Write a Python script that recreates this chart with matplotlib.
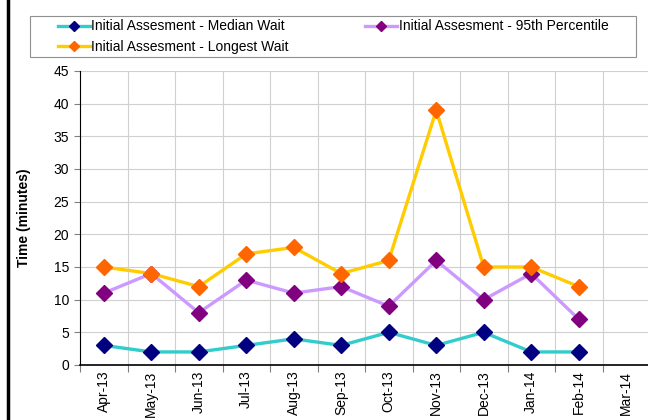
import matplotlib
matplotlib.use('Agg')
import matplotlib.pyplot as plt
from matplotlib.lines import Line2D
from matplotlib.patches import Rectangle
import numpy as np

plt.rcParams['font.family'] = ['Liberation Sans', 'DejaVu Sans']

months = ['Apr-13', 'May-13', 'Jun-13', 'Jul-13', 'Aug-13', 'Sep-13',
          'Oct-13', 'Nov-13', 'Dec-13', 'Jan-14', 'Feb-14', 'Mar-14']
median_wait = [3, 2, 2, 3, 4, 3, 5, 3, 5, 2, 2]
pct95_wait = [11, 14, 8, 13, 11, 12, 9, 16, 10, 14, 7]
longest_wait = [15, 14, 12, 17, 18, 14, 16, 39, 15, 15, 12]

W, H = 648, 420
fig = plt.figure(figsize=(W / 100, H / 100), dpi=100)
ax = fig.add_axes([80 / W, 55 / H, 570 / W, 294 / H])

x = np.arange(len(median_wait))
l1 = ax.plot(x, median_wait, color='#33CCCC', lw=2.4, marker='D', ms=8.5,
             mfc='#000080', mec='#000080', label='Initial Assesment - Median Wait', zorder=3)
l2 = ax.plot(x, pct95_wait, color='#CC99FF', lw=2.4, marker='D', ms=8.5,
             mfc='#800080', mec='#800080', label='Initial Assesment - 95th Percentile', zorder=3)
l3 = ax.plot(x, longest_wait, color='#FFCC00', lw=2.4, marker='D', ms=8.5,
             mfc='#FF6600', mec='#FF6600', label='Initial Assesment - Longest Wait', zorder=3)

ax.set_xlim(-0.5, len(months) - 0.5)
ax.set_ylim(0, 45)
ax.set_yticks(np.arange(0, 46, 5))
ax.tick_params(axis='y', labelsize=10, length=4, direction='out', color='#808080', pad=4)

# boundaries as major ticks (grid), centres as minor ticks (labels)
ax.set_xticks(np.arange(-0.5, len(months), 1))
ax.set_xticklabels([])
ax.set_xticks(np.arange(len(months)), minor=True)
ax.set_xticklabels(months, minor=True, rotation=90, fontsize=10)
ax.tick_params(axis='x', which='major', length=5, color='#808080')
ax.tick_params(axis='x', which='minor', length=0, pad=4)

ax.grid(True, which='major', color='#D0D0D0', lw=0.8)
ax.set_axisbelow(True)
for s in ['top', 'right']:
    ax.spines[s].set_visible(False)
ax.spines['left'].set_color('black')
ax.spines['bottom'].set_color('black')
ax.spines['bottom'].set_linewidth(1.2)

ax.set_ylabel('Time (minutes)', fontsize=10, fontweight='bold', labelpad=16)

# legend frame drawn separately so it spans the full width
fig.add_artist(Rectangle((30 / W, 1 - 57 / H), 606 / W, 41 / H, transform=fig.transFigure,
                         fill=False, edgecolor='#909090', lw=0.8))

# column-first fill: Median, Longest in col 1; 95th in col 2
lns = l1 + l3 + l2
leg = fig.legend(lns, [l.get_label() for l in lns], ncol=2,
                 loc='center left', bbox_to_anchor=(58 / W, 1 - 36.5 / H),
                 fontsize=10, frameon=False, handlelength=2.3, handletextpad=0.1,
                 markerscale=0.6, borderaxespad=0, labelspacing=0.45,
                 borderpad=0, columnspacing=5.5)

# left border
fig.add_artist(Line2D([8 / W, 8 / W], [0, 1], color='black', lw=2.5))

fig.savefig('out.png', dpi=100)
